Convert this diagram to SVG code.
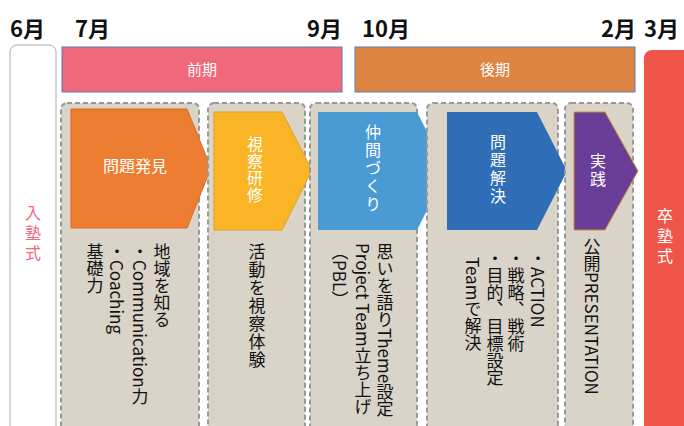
<svg xmlns="http://www.w3.org/2000/svg" width="684" height="426" viewBox="0 0 684 426">
<style>
.month{font-family:"Noto Sans CJK JP","Noto Sans",sans-serif;font-weight:bold;font-size:22px;fill:#111}
.bar{stroke:#5B7DB8;stroke-width:1}
.barlbl{font-family:"Noto Sans CJK JP",sans-serif;font-size:15px;fill:#fff;text-anchor:middle}
.panel{fill:#D9D3C8;stroke:#9A9A9A;stroke-width:2;stroke-dasharray:5 3}
.chev{font-family:"Noto Sans CJK JP",sans-serif;font-size:16px;fill:#fff}
.v{writing-mode:vertical-rl}
.body{font-family:"Noto Sans CJK JP",sans-serif;font-size:17px;fill:#111;writing-mode:vertical-rl}
</style>
<rect width="684" height="426" fill="#fff"/>
<g id="months">
<text class="month" x="10" y="37">6月</text>
<text class="month" x="75" y="37">7月</text>
<text class="month" x="342" y="37" text-anchor="end">9月</text>
<text class="month" x="362" y="37">10月</text>
<text class="month" x="636" y="37" text-anchor="end">2月</text>
<text class="month" x="644" y="37">3月</text>
</g>
<g id="zenki"><rect class="bar" x="62" y="47" width="280" height="45" fill="#F0687B"/><text class="barlbl" x="202" y="75">前期</text></g>
<g id="kouki"><rect class="bar" x="355" y="47" width="280" height="45" fill="#DE8443"/><text class="barlbl" x="495" y="75">後期</text></g>
<g id="nyujuku"><rect x="10" y="45" width="46" height="390" rx="7" fill="#fff" stroke="#AAAAAA" stroke-width="1"/><text class="chev v" x="33" y="205" style="fill:#F06A7E;letter-spacing:4px">入塾式</text></g>
<g id="sotsujuku"><rect x="644" y="50" width="50" height="390" rx="8" fill="#EF5548"/><text class="chev v" x="665" y="208" style="letter-spacing:4px">卒塾式</text></g>
<g id="panel1"><rect class="panel" x="61" y="103" width="138" height="335" rx="6"/>
<path d="M71 109H187L211 168L187 228H71Z" fill="#ED7D31" stroke="#D9691F" stroke-width="1"/>
<text class="chev" x="135" y="172" text-anchor="middle">問題発見</text>
<text class="body" x="162" y="243">地域を知る</text>
<text class="body" x="140" y="243">・Communication力</text>
<text class="body" x="117" y="243">・Coaching</text>
<text class="body" x="95" y="243">基礎力</text>
</g>
<g id="panel2"><rect class="panel" x="208" y="103" width="97" height="335" rx="6"/>
<path d="M214 112H282L312 170L282 230H214Z" fill="#F9B526" stroke="#E0A020" stroke-width="1"/>
<text class="chev v" x="255" y="136" style="letter-spacing:1px">視察研修</text>
<text class="body" x="257" y="243" style="letter-spacing:1px">活動を視察体験</text>
</g>
<g id="panel3"><rect class="panel" x="310" y="103" width="107" height="335" rx="6"/>
<path d="M318 112H417L447 171L417 230H318Z" fill="#4A9AD4"/>
<text class="chev v" x="373" y="124" style="letter-spacing:2px">仲間づくり</text>
<text class="body" x="385" y="243">思いを語りTheme設定</text>
<text class="body" x="363" y="243">Project Team立ち上げ</text>
<text class="body" x="340" y="243">（PBL）</text>
</g>
<g id="panel4"><rect class="panel" x="427" y="103" width="131" height="335" rx="6"/>
<path d="M447 112H537L567 171L537 230H447Z" fill="#2F6EB7"/>
<text class="chev v" x="498" y="134" style="letter-spacing:2px">問題解決</text>
<text class="body" x="538" y="250">・ACTION</text>
<text class="body" x="516" y="250">・戦略、戦術</text>
<text class="body" x="495" y="250">・目的、目標設定</text>
<text class="body" x="473" y="257">Teamで解決</text>
</g>
<g id="panel5"><rect class="panel" x="565" y="103" width="68" height="335" rx="6"/>
<path d="M574 112H605L638 171L605 230H574Z" fill="#6A3D98" stroke="#C9922E" stroke-width="1"/>
<text class="chev v" x="598" y="153" style="letter-spacing:2px">実践</text>
<text class="body" x="592" y="238">公開PRESENTATION</text>
</g>
<g id="connectors"></g>
</svg>
